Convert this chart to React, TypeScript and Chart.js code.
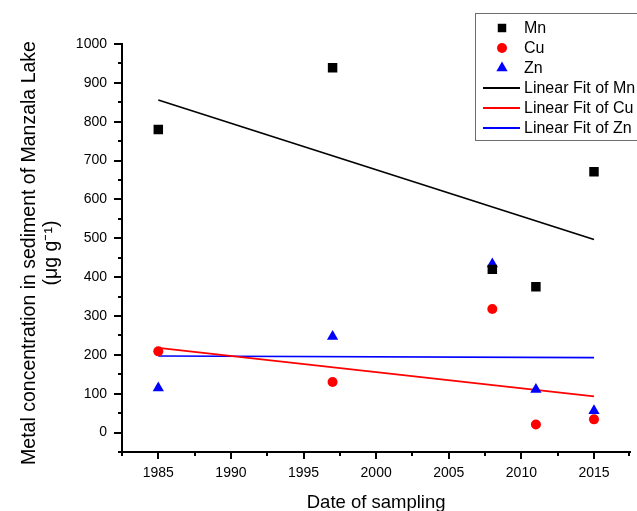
import React, { useEffect, useRef } from 'react';
import { Chart, registerables } from 'chart.js';

Chart.register(...registerables);

// ---- data ----
const years = [1985, 1997, 2008, 2011, 2015];
const mnValues = [780, 939, 420, 375, 671];
const cuValues = [209, 130, 318, 21, 34];
const znValues = [115, 247, 434, 111, 56];

const fitYears = [1985, 2015];
const mnFit = [856, 497];
const cuFit = [218, 93];
const znFit = [197, 193];

const xTicks = [1985, 1990, 1995, 2000, 2005, 2010, 2015];
const yTicks = [0, 100, 200, 300, 400, 500, 600, 700, 800, 900, 1000];

const xTitle = 'Date of sampling';
const yTitle = ['Metal concentration in sediment of Manzala Lake', '(\u03bcg g\u207b\u00b9)'];

const FONT = "'Liberation Sans', Arial, Helvetica, sans-serif";

const toPoints = (xs: number[], ys: number[]) => xs.map((x, i) => ({ x, y: ys[i] }));

function drawSymbol(ctx: CanvasRenderingContext2D, style: string, x: number, y: number, r: number, color: string) {
  ctx.fillStyle = color;
  ctx.beginPath();
  if (style === 'rect') {
    const s = r * Math.SQRT1_2;
    ctx.rect(x - s, y - s, 2 * s, 2 * s);
  } else if (style === 'circle') {
    ctx.arc(x, y, r, 0, Math.PI * 2);
  } else if (style === 'triangle') {
    ctx.moveTo(x, y - r);
    ctx.lineTo(x + r * Math.sin((2 * Math.PI) / 3), y - r * Math.cos((2 * Math.PI) / 3));
    ctx.lineTo(x + r * Math.sin((4 * Math.PI) / 3), y - r * Math.cos((4 * Math.PI) / 3));
    ctx.closePath();
  }
  ctx.fill();
}

const decorPlugin = {
  id: 'decor',
  afterDraw(chart: any) {
    const ctx: CanvasRenderingContext2D = chart.ctx;
    const xs = chart.scales.x;
    const ys = chart.scales.y;
    const { left, right, bottom } = chart.chartArea;
    ctx.save();
    // tick marks
    ctx.strokeStyle = '#000';
    ctx.lineWidth = 2;
    ctx.beginPath();
    yTicks.forEach((v) => {
      const p = Math.round(ys.getPixelForValue(v));
      ctx.moveTo(left, p);
      ctx.lineTo(left - 8, p);
      const m = Math.round(ys.getPixelForValue(v - 50));
      ctx.moveTo(left, m);
      ctx.lineTo(left - 4, m);
    });
    xTicks.forEach((v, i) => {
      const p = Math.round(xs.getPixelForValue(v));
      ctx.moveTo(p, bottom);
      ctx.lineTo(p, bottom + 7);
      const m = Math.round(xs.getPixelForValue(v - 2.5));
      ctx.moveTo(m, bottom);
      ctx.lineTo(m, bottom + 4);
      if (i === xTicks.length - 1) {
        const m2 = Math.round(xs.getPixelForValue(v + 2.5)) - 1;
        ctx.moveTo(m2, bottom);
        ctx.lineTo(m2, bottom + 4);
      }
    });
    ctx.stroke();

    // x axis title
    ctx.fillStyle = '#000';
    ctx.font = `18.5px ${FONT}`;
    ctx.textAlign = 'center';
    ctx.textBaseline = 'alphabetic';
    ctx.fillText(xTitle, (left + right) / 2, 508);

    // y axis title (two lines, rotated)
    ctx.save();
    ctx.translate(30, 253);
    ctx.rotate(-Math.PI / 2);
    ctx.font = `19.5px ${FONT}`;
    ctx.textAlign = 'center';
    ctx.textBaseline = 'middle';
    yTitle.forEach((line, i) => ctx.fillText(line, 0, i * 22));
    ctx.restore();

    // legend
    const bx = 475.5, by = 13.5;
    ctx.strokeStyle = '#6e6e6e';
    ctx.lineWidth = 1;
    ctx.strokeRect(bx, by, 200, 127);
    ctx.font = `16px ${FONT}`;
    ctx.textAlign = 'left';
    ctx.textBaseline = 'middle';
    const items = chart.data.datasets;
    items.forEach((ds: any, i: number) => {
      const cy = 28 + i * 20;
      if (ds.showLine === false) {
        drawSymbol(ctx, ds.pointStyle, 502, cy, ds.legendRadius, ds.backgroundColor);
      } else {
        ctx.strokeStyle = ds.borderColor;
        ctx.lineWidth = 2;
        ctx.beginPath();
        ctx.moveTo(483, cy);
        ctx.lineTo(520, cy);
        ctx.stroke();
      }
      ctx.fillStyle = '#000';
      ctx.fillText(ds.label, 524, cy + 1);
    });
    ctx.restore();
  },
};

export default function App() {
  const ref = useRef<HTMLCanvasElement>(null);

  useEffect(() => {
    if (!ref.current) return;
    Chart.defaults.font.family = FONT;
    Chart.defaults.color = '#000';
    const chart = new Chart(ref.current, {
      type: 'scatter',
      data: {
        datasets: [
          {
            label: 'Mn',
            data: toPoints(years, mnValues),
            showLine: false,
            pointStyle: 'rect',
            pointRadius: 6.7,
            backgroundColor: '#000000',
            borderColor: '#000000',
            borderWidth: 0,
            legendRadius: 6,
          } as any,
          {
            label: 'Cu',
            data: toPoints(years, cuValues),
            showLine: false,
            pointStyle: 'circle',
            pointRadius: 5,
            backgroundColor: '#ff0000',
            borderColor: '#ff0000',
            borderWidth: 0,
            legendRadius: 5,
          } as any,
          {
            label: 'Zn',
            data: toPoints(years, znValues),
            showLine: false,
            pointStyle: 'triangle',
            pointRadius: 6.5,
            backgroundColor: '#0000ff',
            borderColor: '#0000ff',
            borderWidth: 0,
            legendRadius: 6.5,
          } as any,
          {
            label: 'Linear Fit of Mn',
            data: toPoints(fitYears, mnFit),
            showLine: true,
            borderColor: '#000000',
            borderWidth: 1.7,
            pointRadius: 0,
          },
          {
            label: 'Linear Fit of Cu',
            data: toPoints(fitYears, cuFit),
            showLine: true,
            borderColor: '#ff0000',
            borderWidth: 1.7,
            pointRadius: 0,
          },
          {
            label: 'Linear Fit of Zn',
            data: toPoints(fitYears, znFit),
            showLine: true,
            borderColor: '#0000ff',
            borderWidth: 1.7,
            pointRadius: 0,
          },
        ],
      },
      options: {
        animation: false,
        responsive: false,
        layout: { padding: { left: 0, right: 1, top: 44, bottom: 0 } },
        plugins: {
          legend: { display: false },
          tooltip: { enabled: false },
        },
        scales: {
          x: {
            type: 'linear',
            min: 1982.5,
            max: 2017.5,
            grid: { display: false, drawTicks: false },
            border: { display: true, color: '#000', width: 2 },
            afterBuildTicks: (s: any) => {
              s.ticks = xTicks.map((v) => ({ value: v }));
            },
            afterFit: (s: any) => {
              s.height = 59;
            },
            ticks: {
              autoSkip: false,
              maxRotation: 0,
              padding: 13,
              font: { size: 14 },
              callback: (v: any) => String(v),
            },
          },
          y: {
            type: 'linear',
            min: -50,
            max: 1000,
            grid: { display: false, drawTicks: false },
            border: { display: true, color: '#000', width: 2 },
            afterBuildTicks: (s: any) => {
              s.ticks = yTicks.map((v) => ({ value: v }));
            },
            afterFit: (s: any) => {
              s.width = 122;
            },
            ticks: {
              padding: 15,
              font: { size: 14 },
              callback: (v: any) => String(v),
            },
          },
        },
      },
      plugins: [decorPlugin],
    });
    return () => chart.destroy();
  }, []);

  return (
    <div style={{ position: 'absolute', left: 0, top: 0, width: 637, height: 511, background: '#fff' }}>
      <canvas ref={ref} width={637} height={511} style={{ display: 'block' }} />
    </div>
  );
}
